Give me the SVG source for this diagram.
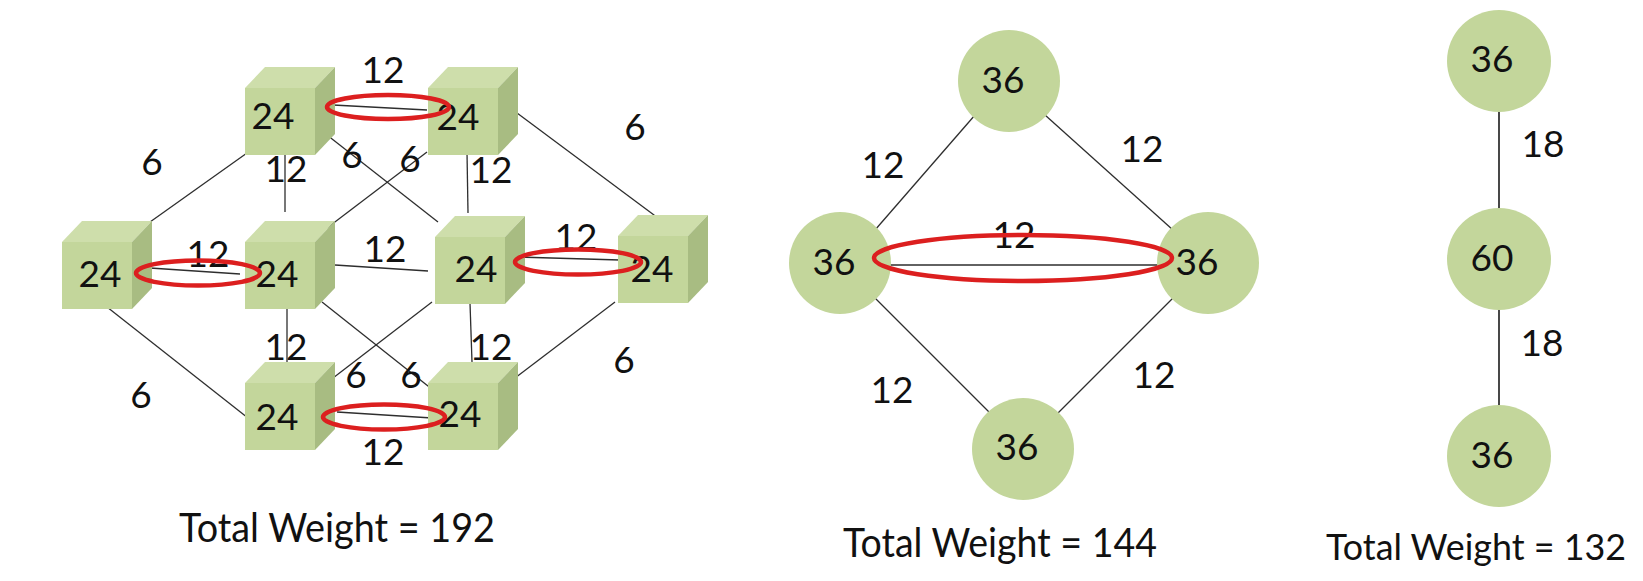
<svg xmlns="http://www.w3.org/2000/svg" xmlns:xlink="http://www.w3.org/1999/xlink" width="1643" height="581" viewBox="0 0 1643 581">
  <style>
    .edge { stroke: #2e2e2e; stroke-width: 1.3; fill: none; }
    .edge3 { stroke: #1a1a1a; stroke-width: 1.6; fill: none; }
    .hl { stroke: #dc1f1f; stroke-width: 4.5; fill: none; }
    .num { font-family: Lato, "Open Sans", "Liberation Sans", sans-serif; font-size: 37px; fill: #111; text-anchor: middle; }
    .total { font-family: Lato, "Open Sans", "Liberation Sans", sans-serif; font-size: 40px; fill: #111; }
    .face-front { fill: #c3d69b; }
    .face-top { fill: #cedeab; }
    .face-side { fill: #a8bc82; }
    .disc { fill: #c3d69b; }
  </style>
  <defs>
    <!-- cube with its front face at (0,0), 70 x 67, depth offset (20,-21) -->
    <g id="cube">
      <rect class="face-front" x="0" y="0" width="70" height="67"/>
      <polygon class="face-top" points="0,0 20,-21 90,-21 70,0"/>
      <polygon class="face-side" points="70,0 90,-21 90,46 70,67"/>
    </g>
  </defs>

  <rect width="1643" height="581" fill="#ffffff"/>

  <!-- connectors -->
  <g id="connectors">
    <!-- cube graph -->
    <line class="edge" x1="333" y1="105" x2="427" y2="110"/>
    <line class="edge" x1="150" y1="222" x2="247" y2="153"/>
    <line class="edge" x1="285" y1="152" x2="285" y2="212"/>
    <line class="edge" x1="327" y1="135" x2="438" y2="222"/>
    <line class="edge" x1="427" y1="152" x2="327" y2="228"/>
    <line class="edge" x1="513" y1="110" x2="658" y2="218"/>
    <line class="edge" x1="467" y1="152" x2="468" y2="213"/>
    <line class="edge" x1="150" y1="268" x2="240" y2="274"/>
    <line class="edge" x1="335" y1="265" x2="428" y2="271"/>
    <line class="edge" x1="517" y1="257" x2="620" y2="260"/>
    <line class="edge" x1="615" y1="302" x2="515" y2="378"/>
    <line class="edge" x1="470" y1="303" x2="472" y2="362"/>
    <line class="edge" x1="287" y1="303" x2="287" y2="363"/>
    <line class="edge" x1="107" y1="307" x2="248" y2="418"/>
    <line class="edge" x1="322" y1="302" x2="433" y2="390"/>
    <line class="edge" x1="432" y1="302" x2="333" y2="378"/>
    <line class="edge" x1="337" y1="412" x2="432" y2="418"/>

    <!-- square graph -->
    <line class="edge" x1="975" y1="115" x2="875" y2="230"/>
    <line class="edge" x1="1045" y1="115" x2="1173" y2="230"/>
    <line class="edge" x1="883" y1="265" x2="1163" y2="265"/>
    <line class="edge" x1="875" y1="298" x2="990" y2="413"/>
    <line class="edge" x1="1173" y1="298" x2="1058" y2="413"/>

    <!-- chain graph -->
    <line class="edge3" x1="1499" y1="108" x2="1499" y2="210"/>
    <line class="edge3" x1="1499" y1="308" x2="1499" y2="408"/>
  </g>

  <!-- cube nodes -->
  <g id="cube-a"><use xlink:href="#cube" transform="translate(245,88)"/><text class="num" x="273" y="129">24</text></g>
  <g id="cube-b"><use xlink:href="#cube" transform="translate(428,88)"/><text class="num" x="458" y="130">24</text></g>
  <g id="cube-f"><use xlink:href="#cube" transform="translate(62,242)"/><text class="num" x="100" y="287">24</text></g>
  <g id="cube-g"><use xlink:href="#cube" transform="translate(245,242)"/><text class="num" x="277" y="287">24</text></g>
  <g id="cube-c"><use xlink:href="#cube" transform="translate(435,237)"/><text class="num" x="476" y="282">24</text></g>
  <g id="cube-d"><use xlink:href="#cube" transform="translate(618,236)"/><text class="num" x="652" y="282">24</text></g>
  <g id="cube-h"><use xlink:href="#cube" transform="translate(245,383)"/><text class="num" x="277" y="430">24</text></g>
  <g id="cube-e"><use xlink:href="#cube" transform="translate(428,383)"/><text class="num" x="460" y="427">24</text></g>

  <!-- square graph nodes -->
  <g id="sq-top"><circle class="disc" cx="1009" cy="81" r="51"/><text class="num" x="1003" y="93">36</text></g>
  <g id="sq-left"><circle class="disc" cx="840" cy="263" r="51"/><text class="num" x="834" y="275">36</text></g>
  <g id="sq-right"><circle class="disc" cx="1208" cy="263" r="51"/><text class="num" x="1197" y="275">36</text></g>
  <g id="sq-bottom"><circle class="disc" cx="1023" cy="449" r="51"/><text class="num" x="1017" y="460">36</text></g>

  <!-- chain graph nodes -->
  <g id="ch-top"><ellipse class="disc" cx="1499" cy="61" rx="52" ry="51"/><text class="num" x="1492" y="72">36</text></g>
  <g id="ch-mid"><ellipse class="disc" cx="1499" cy="259" rx="52" ry="51"/><text class="num" x="1492" y="271">60</text></g>
  <g id="ch-bottom"><ellipse class="disc" cx="1499" cy="456" rx="52" ry="51"/><text class="num" x="1492" y="468">36</text></g>

  <!-- edge weights -->
  <g id="edge-labels">
    <text class="num" x="383" y="83">12</text>
    <text class="num" x="152" y="175">6</text>
    <text class="num" x="286" y="182">12</text>
    <text class="num" x="352" y="168">6</text>
    <text class="num" x="410" y="172">6</text>
    <text class="num" x="635" y="140">6</text>
    <text class="num" x="491" y="183">12</text>
    <text class="num" x="208" y="267">12</text>
    <text class="num" x="385" y="262">12</text>
    <text class="num" x="576" y="250">12</text>
    <text class="num" x="624" y="373">6</text>
    <text class="num" x="491" y="360">12</text>
    <text class="num" x="286" y="360">12</text>
    <text class="num" x="141" y="408">6</text>
    <text class="num" x="411" y="388">6</text>
    <text class="num" x="356" y="388">6</text>
    <text class="num" x="383" y="465">12</text>

    <text class="num" x="883" y="178">12</text>
    <text class="num" x="1142" y="162">12</text>
    <text class="num" x="1014" y="248">12</text>
    <text class="num" x="892" y="403">12</text>
    <text class="num" x="1154" y="388">12</text>

    <text class="num" x="1543" y="157">18</text>
    <text class="num" x="1542" y="356">18</text>
  </g>

  <!-- highlighted edges -->
  <g id="highlights">
    <ellipse class="hl" cx="388" cy="107" rx="61" ry="12"/>
    <ellipse class="hl" cx="198" cy="273" rx="62" ry="12.5"/>
    <ellipse class="hl" cx="578" cy="262" rx="63" ry="12.5"/>
    <ellipse class="hl" cx="384" cy="417" rx="61" ry="12.5"/>
    <ellipse class="hl" cx="1023" cy="258" rx="149" ry="23"/>
  </g>

  <!-- totals -->
  <g id="totals">
    <text class="total" x="179" y="542" textLength="316" lengthAdjust="spacingAndGlyphs">Total Weight = 192</text>
    <text class="total" x="843" y="557" textLength="314" lengthAdjust="spacingAndGlyphs">Total Weight = 144</text>
    <text class="total" x="1326" y="560" style="font-size:37px" textLength="300" lengthAdjust="spacingAndGlyphs">Total Weight = 132</text>
  </g>
</svg>
